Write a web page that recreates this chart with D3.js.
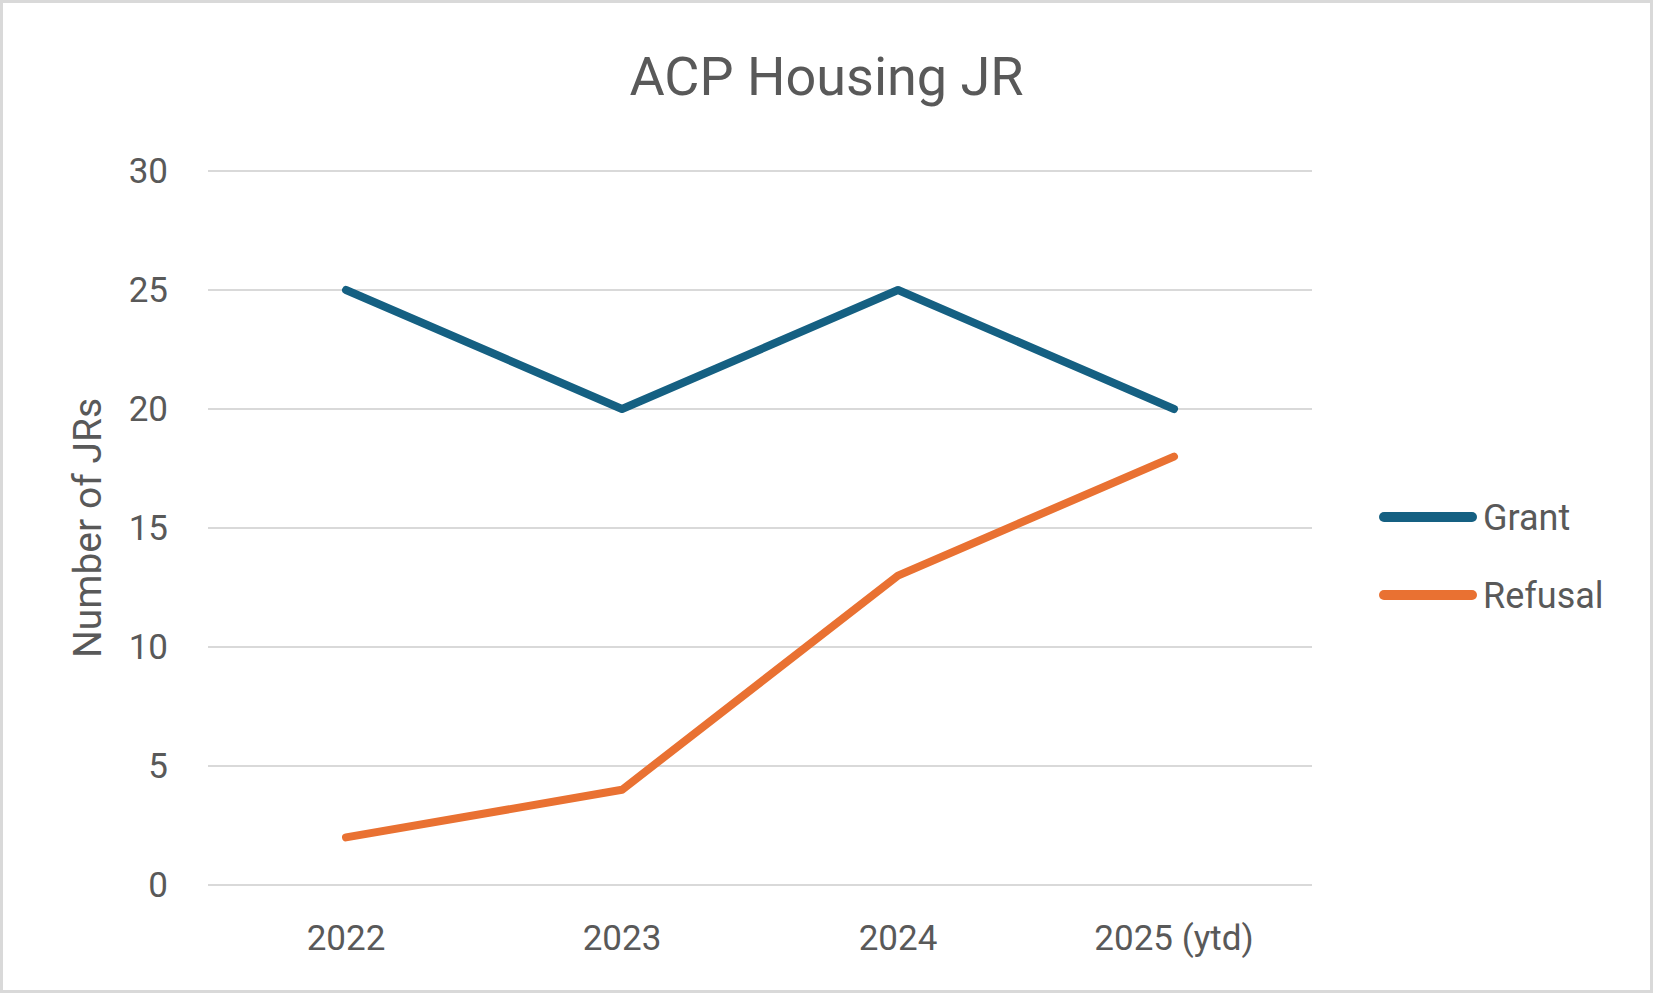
<!DOCTYPE html>
<html>
<head>
<meta charset="utf-8">
<script src="https://cdn.jsdelivr.net/npm/d3@7"></script>
<style>
    html, body { margin: 0; padding: 0; background: #ffffff; }
    svg { display: block; }
</style>
</head>
<body>
<svg id="chart"></svg>
<script>
// chart data
const categories = ["2022", "2023", "2024", "2025 (ytd)"];
const grantValues = [25, 20, 25, 20];
const refusalValues = [2, 4, 13, 18];
const yTicks = [0, 5, 10, 15, 20, 25, 30];
const seriesNames = ["Grant", "Refusal"];

const width = 1653, height = 993;
const margin = { top: 171, right: 341, bottom: 108, left: 208 };
const innerW = width - margin.left - margin.right;
const innerH = height - margin.top - margin.bottom;

const textColor = "#595959";
const colors = { Grant: "#156082", Refusal: "#E97132" };

let svg = d3.select("#chart")
    .attr("width", width)
    .attr("height", height);

// outer chart frame
svg.append("rect")
    .attr("x", 1.5).attr("y", 1.5)
    .attr("width", width - 3).attr("height", height - 3)
    .attr("fill", "#ffffff")
    .attr("stroke", "#d9d9d9")
    .attr("stroke-width", 3);

// title
svg.append("text")
    .attr("x", width / 2)
    .attr("y", 95)
    .attr("text-anchor", "middle")
    .style("font-family", "Roboto, sans-serif")
    .style("font-size", "54px")
    .style("fill", textColor)
    .text("ACP Housing JR");

let g = svg.append("g")
    .attr("transform", `translate(${margin.left}, ${margin.top})`);

// scales
let x = d3.scaleBand()
    .domain(categories)
    .range([0, innerW]);

let y = d3.scaleLinear()
    .domain([0, 30])
    .range([innerH, 0]);

// gridlines
g.append("g")
    .attr("class", "grid")
    .selectAll("line")
    .data(yTicks)
    .join("line")
    .attr("x1", 0)
    .attr("x2", innerW)
    .attr("y1", d => y(d))
    .attr("y2", d => y(d))
    .attr("stroke", "#d9d9d9")
    .attr("stroke-width", 2);

// y axis (labels only)
let yAxis = d3.axisLeft(y)
    .tickValues(yTicks)
    .tickSize(0)
    .tickPadding(40);

let yAxisGroup = g.append("g").call(yAxis);
yAxisGroup.select(".domain").remove();
yAxisGroup.selectAll("text")
    .attr("dy", "0.33em")
    .style("font-family", "Roboto, sans-serif")
    .style("font-size", "35px")
    .style("fill", textColor);

// x axis (labels only)
let xAxis = d3.axisBottom(x)
    .tickSize(0)
    .tickPadding(40);

let xAxisGroup = g.append("g")
    .attr("transform", `translate(0, ${innerH})`)
    .call(xAxis);
xAxisGroup.select(".domain").remove();
xAxisGroup.selectAll("text")
    .attr("dy", "0.71em")
    .style("font-family", "Roboto, sans-serif")
    .style("font-size", "35px")
    .style("fill", textColor);

// y axis title
svg.append("text")
    .attr("transform", `translate(101, 528) rotate(-90)`)
    .attr("text-anchor", "middle")
    .style("font-family", "Roboto, sans-serif")
    .style("font-size", "39px")
    .style("fill", textColor)
    .text("Number of JRs");

// lines
let series = [
    { name: seriesNames[0], values: grantValues },
    { name: seriesNames[1], values: refusalValues }
];

let line = d3.line()
    .x((d, i) => x(categories[i]) + x.bandwidth() / 2)
    .y(d => y(d));

g.selectAll(".series-line")
    .data(series)
    .join("path")
    .attr("class", "series-line")
    .attr("d", d => line(d.values))
    .attr("fill", "none")
    .attr("stroke", d => colors[d.name])
    .attr("stroke-width", 8)
    .attr("stroke-linecap", "round")
    .attr("stroke-linejoin", "round");

// legend
let legend = svg.append("g")
    .attr("transform", "translate(1384, 517)");

let legendItems = legend.selectAll("g")
    .data(seriesNames)
    .join("g")
    .attr("transform", (d, i) => `translate(0, ${i * 78})`);

legendItems.append("line")
    .attr("x1", 0).attr("x2", 88)
    .attr("y1", 0).attr("y2", 0)
    .attr("stroke", d => colors[d])
    .attr("stroke-width", 10)
    .attr("stroke-linecap", "round");

legendItems.append("text")
    .attr("x", 99)
    .attr("y", 12.5)
    .style("font-family", "Roboto, sans-serif")
    .style("font-size", "36px")
    .style("fill", textColor)
    .text(d => d);
</script>
</body>
</html>
